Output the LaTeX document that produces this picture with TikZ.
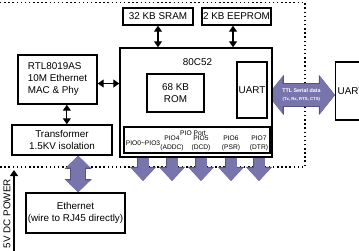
\documentclass[tikz,border=0pt]{standalone}
\usepackage{fontspec}
\setmainfont{Liberation Sans}
\usetikzlibrary{arrows.meta}
\pgfdeclarelayer{edgelayer}
\pgfdeclarelayer{nodelayer}
\pgfsetlayers{edgelayer,nodelayer,main}
\definecolor{fatfill}{RGB}{120,117,172}
\definecolor{fatedge}{RGB}{84,82,130}
\tikzstyle{txt}=[font=\fontsize{7.4}{9}\selectfont, align=center, inner sep=0pt]
\tikzstyle{tiny}=[font=\fontsize{5}{6.75}\selectfont, align=center, inner sep=0pt]
\tikzstyle{box}=[txt, draw=black, line width=1.1pt, fill=white]
\tikzstyle{dots}=[draw=black, line width=1.1pt, dash pattern=on 1.1pt off 2pt]
\tikzstyle{link}=[draw=black, line width=0.9pt, {Triangle[length=4.5pt,width=6pt]}-{Triangle[length=4.5pt,width=6pt]}]
\tikzstyle{feed}=[draw=black, line width=0.9pt, -{Triangle[length=4.5pt,width=6pt]}]
\tikzstyle{fatpio}=[draw=fatfill, line width=8.25pt, -{Triangle[length=9.75pt,width=17.25pt]}, preaction={draw=fatedge, line width=9.5pt, -{Triangle[length=10.6pt,width=19pt]}}]
\tikzstyle{fatbus}=[draw=fatfill, line width=10.5pt, {Triangle[length=9pt,width=18pt]}-{Triangle[length=9pt,width=18pt]}, preaction={draw=fatedge, line width=11.75pt, {Triangle[length=9.9pt,width=19.75pt]}-{Triangle[length=9.9pt,width=19.75pt]}}]
\tikzstyle{fatttl}=[draw=fatfill, line width=16.5pt, {Triangle[length=11.25pt,width=27.75pt]}-{Triangle[length=11.25pt,width=27.75pt]}, preaction={draw=fatedge, line width=17.75pt, {Triangle[length=12.1pt,width=29.5pt]}-{Triangle[length=12.1pt,width=29.5pt]}}]
\tikzstyle{ttltext}=[text=white, font=\bfseries\fontsize{4}{5.5}\selectfont, align=center, inner sep=0pt]

\begin{document}
\begin{tikzpicture}[x=0.75pt, y=-0.75pt]
			\useasboundingbox (0,0) rectangle (359,250);
			\begin{pgfonlayer}{nodelayer}
			\node [style=box, minimum width=52.5pt, minimum height=12.75pt] (sram) at (158,16.5) {32 KB SRAM};
			\node [style=box, minimum width=51.75pt, minimum height=12.75pt] (eeprom) at (236.5,16.5) {2 KB EEPROM};
			\node [style=box, minimum width=114pt, minimum height=81.75pt] (mcu) at (196,102.5) {};
			\node [style=txt] (mcuname) at (197.5,62) {80C52};
			\node [style=box, minimum width=42.75pt, minimum height=28.5pt] (rom) at (175.5,93) {68 KB\\ROM};
			\node [style=box, minimum width=22.5pt, minimum height=42pt] (uart) at (252,90) {UART};
			\node [style=box, anchor=west, text width=40pt, align=left, inner xsep=1.5pt, minimum height=43.5pt] (uart2) at (335,91) {UART};
			\node [style=box, minimum width=109.5pt, minimum height=19.5pt] (pio) at (197,140) {};
			\node [style=tiny] (pioname) at (193,133) {PIO Port};
			\node [style=tiny] (p0) at (143,143) {PIO0\textasciitilde PIO3};
			\node [style=tiny] (p4) at (172,143.5) {PIO4\\(ADDC)};
			\node [style=tiny] (p5) at (201,143.5) {PIO5\\(DCD)};
			\node [style=tiny] (p6) at (231,143.5) {PIO6\\(PSR)};
			\node [style=tiny] (p7) at (259,143.5) {PIO7\\(DTR)};
			\node [style=box, align=left, minimum width=59.25pt, minimum height=36.75pt] (rtl) at (57.5,79.5) {RTL8019AS\\10M Ethernet\\MAC \& Phy};
			\node [style=box, minimum width=75pt, minimum height=22.5pt] (trans) at (62,140) {Transformer\\1.5KV isolation};
			\node [style=box, minimum width=74.25pt, minimum height=30pt] (eth) at (75.5,213) {Ethernet\\(wire to RJ45 directly)};
			\node [style=txt, rotate=90, anchor=east] (power) at (7,179) {5V DC POWER};
			\coordinate (pwrlow) at (14,252);
			\coordinate (pwrtop) at (14,170);
			\coordinate (q0) at (143,181);
			\coordinate (q4) at (172,181);
			\coordinate (q5) at (201,181);
			\coordinate (q6) at (231,181);
			\coordinate (q7) at (259,181);
			\end{pgfonlayer}
			\begin{pgfonlayer}{edgelayer}
			\draw [style=dots] (0,2.5) -- (305,2.5) -- (305,167) -- (0,167);
			\draw [style=link] (sram.south) to (sram.south |- mcu.north);
			\draw [style=link] ([xshift=-2.6pt]eeprom.south) to ([xshift=-2.6pt]eeprom.south |- mcu.north);
			\draw [style=link] ([yshift=-3pt]rtl.east) to ([yshift=-3pt]rtl.east -| mcu.west);
			\draw [style=link] ([xshift=7pt]rtl.south) to ([xshift=7pt]rtl.south |- trans.north);
			\draw [style=feed] (pwrlow) to (pwrtop);
			\draw [style=fatbus] ([xshift=2pt]eth.north |- trans.south) to ([xshift=2pt]eth.north);
			\draw [style=fatttl] ([yshift=-3.75pt]uart.east) to node [style=ttltext] (ttl) {TTL Serial data\\{\fontsize{3.2}{4}\selectfont (Tx, Rx, RTS, CTS)}} ([yshift=-3.75pt]uart.east -| uart2.west);
			\draw [style=fatpio] (p0 |- mcu.south) to (q0);
			\draw [style=fatpio] (p4 |- mcu.south) to (q4);
			\draw [style=fatpio] (p5 |- mcu.south) to (q5);
			\draw [style=fatpio] (p6 |- mcu.south) to (q6);
			\draw [style=fatpio] (p7 |- mcu.south) to (q7);
			\end{pgfonlayer}
\end{tikzpicture}
\end{document}
